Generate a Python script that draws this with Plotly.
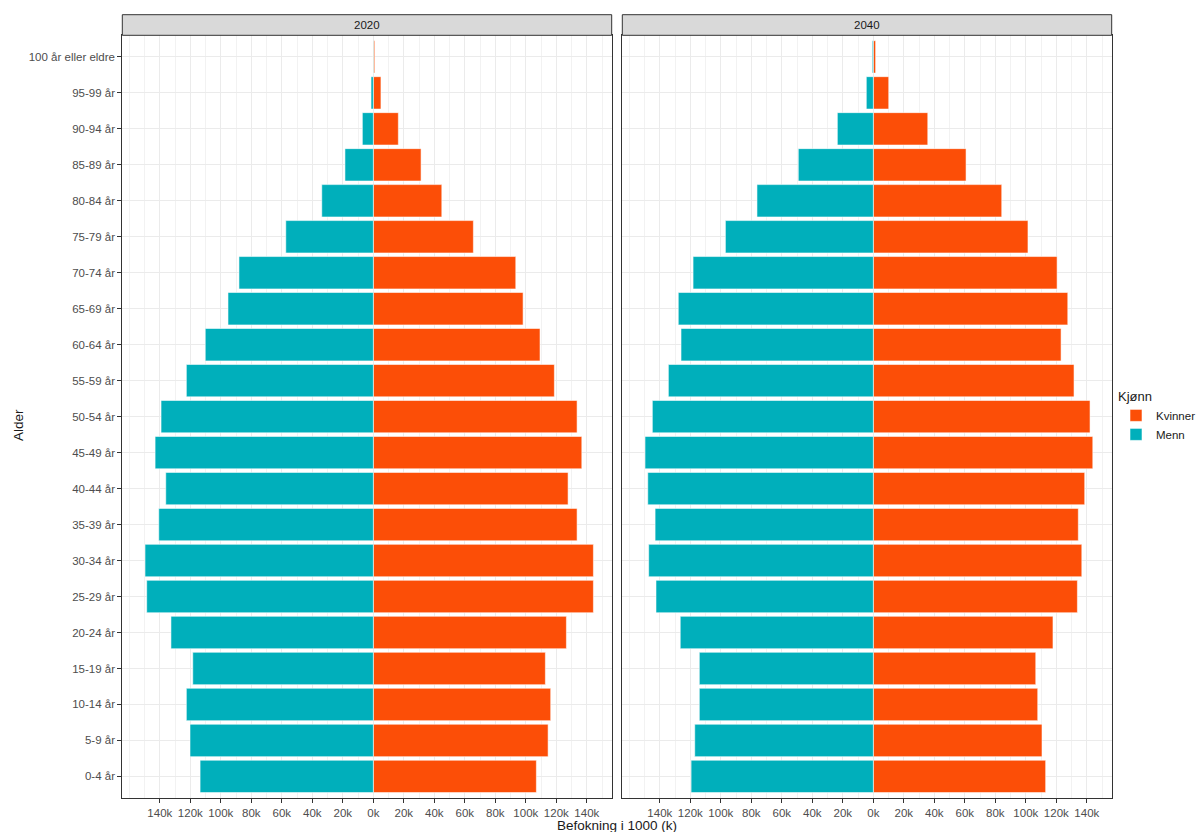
import plotly.graph_objects as go

ages = ["0-4 år", "5-9 år", "10-14 år", "15-19 år", "20-24 år", "25-29 år", "30-34 år",
        "35-39 år", "40-44 år", "45-49 år", "50-54 år", "55-59 år", "60-64 år", "65-69 år",
        "70-74 år", "75-79 år", "80-84 år", "85-89 år", "90-94 år", "95-99 år",
        "100 år eller eldre"]

# population in thousands
menn_2020 = [113.6, 120.2, 122.6, 118.4, 132.7, 148.6, 149.7, 140.7, 136.1, 143.1, 139.2,
             122.6, 110.2, 95.3, 88.1, 57.4, 33.8, 18.6, 7.2, 1.5, 0.2]
kvinner_2020 = [106.9, 114.6, 116.3, 112.8, 126.6, 144.3, 144.3, 133.6, 127.7, 136.7, 133.6,
                118.7, 109.3, 98.2, 93.4, 65.6, 44.9, 31.3, 16.4, 5.0, 0.9]
menn_2040 = [119.5, 117.1, 114.1, 114.1, 126.6, 142.5, 147.3, 143.1, 147.9, 149.7, 144.9,
             134.4, 126.1, 127.9, 118.2, 97.0, 76.3, 49.2, 23.6, 4.6, 0.7]
kvinner_2040 = [113.0, 110.6, 107.8, 106.5, 117.8, 133.8, 136.7, 134.4, 138.6, 143.9, 142.1,
                131.6, 123.1, 127.5, 120.5, 101.4, 84.2, 60.8, 35.7, 10.1, 1.5]

years = ["2020", "2040"]
tick_vals = [-140, -120, -100, -80, -60, -40, -20, 0, 20, 40, 60, 80, 100, 120, 140]
tick_text = ["140k", "120k", "100k", "80k", "60k", "40k", "20k", "0k",
             "20k", "40k", "60k", "80k", "100k", "120k", "140k"]

C_K = "#FC4E07"
C_M = "#00AFBB"
W, H = 1203, 832

fig = go.Figure()
data = [(kvinner_2020, menn_2020), (kvinner_2040, menn_2040)]
for i, (kv, me) in enumerate(data):
    xa = "x" if i == 0 else "x2"
    ya = "y" if i == 0 else "y2"
    fig.add_trace(go.Bar(y=ages, x=kv, orientation="h", name="Kvinner",
                         marker=dict(color=C_K, line=dict(color="rgba(255,255,255,0.55)", width=1)),
                         width=0.9, xaxis=xa, yaxis=ya, legendgroup="k", showlegend=(i == 0)))
    fig.add_trace(go.Bar(y=ages, x=[-v for v in me], orientation="h", name="Menn",
                         marker=dict(color=C_M, line=dict(color="rgba(255,255,255,0.55)", width=1)),
                         width=0.9, xaxis=xa, yaxis=ya, legendgroup="m", showlegend=(i == 0)))

px = lambda v: v / W
py = lambda v: 1 - v / H

x_range = [-164.6, 156.3]
dom1 = [px(122.3), px(611.7)]
dom2 = [px(622.3), px(1111.7)]
ydom = [py(798), py(35.3)]

axis_common = dict(range=x_range, tickvals=tick_vals, ticktext=tick_text,
                   showgrid=True, gridcolor="#EBEBEB", gridwidth=1,
                   minor=dict(dtick=10, tick0=0, showgrid=True, gridcolor="#F2F2F2", gridwidth=0.6),
                   showline=True, linecolor="#333333", linewidth=1, mirror=True,
                   ticks="outside", ticklen=4, tickcolor="#333333",
                   tickfont=dict(family="Liberation Sans, Arial", size=11.5, color="#4D4D4D"),
                   zeroline=False, fixedrange=True)
yaxis_common = dict(type="category", categoryorder="array", categoryarray=ages,
                    range=[-0.6, 20.6], domain=ydom,
                    showgrid=True, gridcolor="#EBEBEB", gridwidth=1,
                    showline=True, linecolor="#333333", linewidth=1, mirror=True,
                    zeroline=False, fixedrange=True,
                    tickfont=dict(family="Liberation Sans, Arial", size=11.5, color="#4D4D4D"))

fig.update_layout(
    width=W, height=H,
    margin=dict(l=0, r=0, t=0, b=0),
    paper_bgcolor="white", plot_bgcolor="white",
    barmode="relative", bargap=0.1,
    xaxis=dict(domain=dom1, anchor="y", **axis_common),
    xaxis2=dict(domain=dom2, anchor="y2", **axis_common),
    yaxis=dict(anchor="x", ticks="outside", ticklen=4, tickcolor="#333333", **yaxis_common),
    yaxis2=dict(anchor="x2", showticklabels=False, ticks="", **yaxis_common),
    legend=dict(x=px(1116), y=py(384), xanchor="left", yanchor="top",
                title=dict(text="Kjønn", font=dict(family="Liberation Sans, Arial", size=13, color="#1A1A1A")),
                font=dict(family="Liberation Sans, Arial", size=11.5, color="#1A1A1A"),
                traceorder="normal", itemwidth=30, tracegroupgap=2, bgcolor="rgba(0,0,0,0)"),
    showlegend=True,
)

# facet strips
for dom, yr in zip([dom1, dom2], years):
    fig.add_shape(type="rect", xref="paper", yref="paper", x0=dom[0], x1=dom[1],
                  y0=py(35.3), y1=py(14.7), fillcolor="#D9D9D9",
                  line=dict(color="#333333", width=1), layer="above")
    fig.add_annotation(xref="paper", yref="paper", x=(dom[0] + dom[1]) / 2, y=py(25),
                       text=yr, showarrow=False, xanchor="center", yanchor="middle",
                       font=dict(family="Liberation Sans, Arial", size=11.5, color="#1A1A1A"))

fig.add_annotation(xref="paper", yref="paper", x=px(617), y=py(825), text="Befokning i 1000 (k)",
                   showarrow=False, xanchor="center", yanchor="middle",
                   font=dict(family="Liberation Sans, Arial", size=13.5, color="#1A1A1A"))
fig.add_annotation(xref="paper", yref="paper", x=px(18), y=py(425), text="Alder", textangle=-90,
                   showarrow=False, xanchor="center", yanchor="middle",
                   font=dict(family="Liberation Sans, Arial", size=13.5, color="#1A1A1A"))

fig.write_html("out.html", config={"displayModeBar": False},
               post_script="document.body.style.margin='0px';document.body.style.overflow='hidden';")
